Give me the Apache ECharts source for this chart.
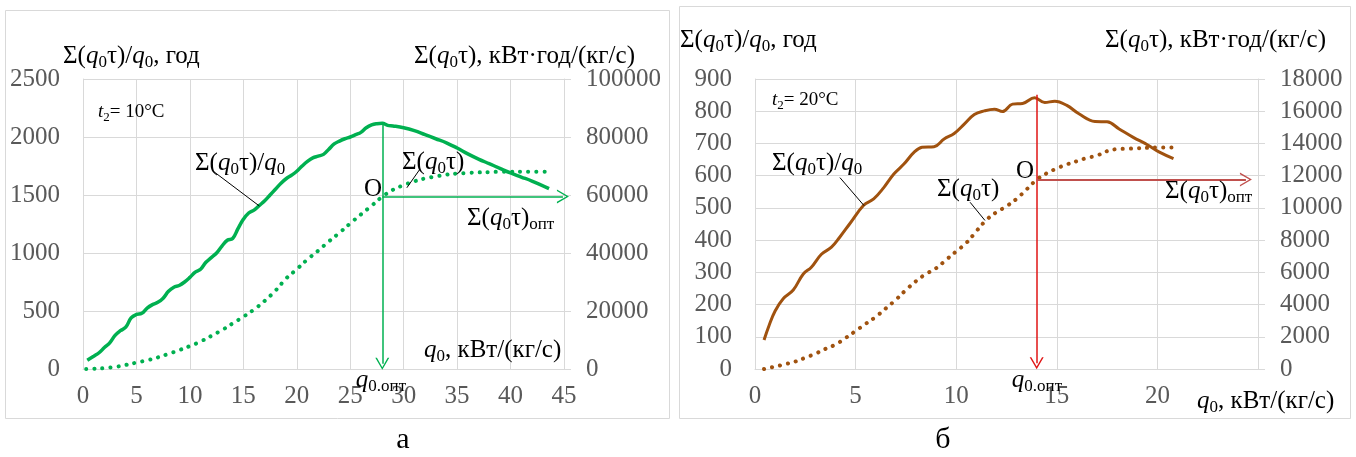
<!DOCTYPE html>
<html><head><meta charset="utf-8">
<script src="https://cdn.jsdelivr.net/npm/echarts@6/dist/echarts.min.js"></script>
<style>html,body{margin:0;padding:0;background:#fff}#c{width:1356px;height:457px}</style>
</head><body><div id="c"></div>
<script>
// ---------- DATA ----------
// Panel а (t2 = 10°C)
const qA_ratio = [0.4,1.0,1.5,2.0,2.5,3.0,3.5,4.0,4.5,5.0,5.5,6.0,6.5,7.0,7.5,8.0,8.5,9.0,9.5,10.0,10.5,11.0,11.5,12.0,12.5,13.0,13.5,14.0,14.5,15.0,15.5,16.0,16.5,17.0,17.5,18.0,18.5,19.0,19.5,20.0,20.5,21.0,21.5,22.0,22.5,23.0,23.5,24.0,24.5,25.0,25.5,26.0,26.5,27.0,27.5,28.0,28.5,29.0,30.0,31.0,32.0,33.0,34.0,35.0,36.0,37.0,38.0,39.0,40.0,41.0,42.0,43.6];
const ratioA = [75,110,140,185,225,290,330,360,440,470,480,525,555,575,610,670,705,720,750,790,835,860,920,960,1000,1060,1110,1125,1210,1290,1345,1370,1410,1450,1500,1550,1600,1640,1670,1705,1750,1790,1820,1835,1850,1895,1940,1965,1985,2000,2020,2040,2080,2105,2115,2118,2100,2095,2080,2055,2020,1985,1950,1905,1855,1810,1770,1730,1690,1655,1620,1555];
const qA_sum = [0.3,1,2,3,4,5,6,7,8,9,10,11,12,13,14,15,16,17,18,19,20,21,22,23,24,25,26,27,28,29,30,31,32,33,34,35,36,37,38,39,40,41,42,43.5];
const sumA = [0,100,300,700,1400,2200,3000,4000,5200,6500,7900,9500,11400,13400,15700,18000,20500,23500,27000,31200,34400,37800,40800,44000,47000,50200,53300,56300,59400,61800,63400,64700,65700,66400,67000,67400,67600,67800,67900,68000,68000,68000,68000,68000];
// Panel б (t2 = 20°C)
const qB_ratio = [0.45,0.7,1.0,1.4,1.9,2.4,2.8,3.3,3.8,4.2,4.7,5.4,5.9,6.4,6.9,7.4,7.9,8.3,8.9,9.4,9.9,10.4,10.9,11.4,11.9,12.3,12.8,13.3,13.9,14.4,14.9,15.5,16.1,16.9,17.5,18.1,18.8,19.5,20.1,20.8];
const ratioB = [90,135,180,218,245,295,316,356,378,408,450,508,528,563,605,636,672,688,690,714,731,760,790,801,806,799,822,824,842,827,831,818,792,768,767,745,719,696,673,653];
const qB_sum = [0.45,1.0,1.5,2.0,2.5,3.0,3.5,4.0,4.5,5.0,5.5,6.0,6.5,7.0,7.5,8.0,8.5,9.0,9.5,10.0,10.5,11.0,11.5,12.0,12.5,13.0,13.5,14.0,14.5,15.0,15.5,16.0,16.5,17.0,17.5,18.0,18.5,19.0,19.5,20.0,20.8];
const sumB = [0,150,300,460,700,950,1250,1520,1920,2360,2800,3240,3760,4300,4900,5450,5900,6250,6780,7300,7820,8550,9250,9730,10100,10560,11150,11750,12150,12450,12700,12900,13100,13250,13520,13650,13670,13700,13730,13750,13750];
// Optimum points
const optA = {q: 28, ratio: 2118, sum: 59500, arrowEnd: 45.4};
const optB = {q: 14, ratio: 851, sum: 11760, arrowEnd: 24.7};
// Axis ranges
const xRangeA = [0, 45, 5], yLeftA = [0, 2500, 500], yRightA = [0, 100000, 20000];
const xRangeB = [0, 25, 5], yLeftB = [0, 900, 100], yRightB = [0, 18000, 2000];

// ---------- STYLE ----------
const F = 'Liberation Serif';
const GRID = '#d9d9d9', LBL = '#595959';
const GREEN = '#00b050', BROWN = '#a0520f', RED = '#e01414', RED2 = '#c0504d';
const CHEV = 'path://M0,12 L6,0 L12,12 L10.6,12 L6,2.6 L1.4,12 Z';

const zip = (xs, ys) => xs.map((x, i) => [x, ys[i]]);
function rich(fs) {
  return {
    n: {fontFamily: F, fontSize: fs, color: '#000', lineHeight: fs + 5},
    i: {fontFamily: F, fontSize: fs, fontStyle: 'italic', color: '#000', lineHeight: fs + 5},
    s: {fontFamily: F, fontSize: Math.round(fs * 0.68), color: '#000', verticalAlign: 'bottom', lineHeight: Math.round(fs * 0.72)}
  };
}
function txt(x, y, text, fs, align) {
  return {type: 'text', x: x, y: y, silent: true, z: 100,
    style: {text: text, rich: rich(fs || 25), align: align || 'left', textAlign: align || 'left',
      verticalAlign: 'middle', textVerticalAlign: 'middle', fontFamily: F, fontSize: fs || 25}};
}
const T_RATIO_AX = '{n|Σ(}{i|q}{s|0}{n|τ)/}{i|q}{s|0}{n|, год}';
const T_SUM_AX = '{n|Σ(}{i|q}{s|0}{n|τ), кВт·год/(кг/с)}';
const T_RATIO = '{n|Σ(}{i|q}{s|0}{n|τ)/}{i|q}{s|0}';
const T_SUM = '{n|Σ(}{i|q}{s|0}{n|τ)}';
const T_SUMOPT = '{n|Σ(}{i|q}{s|0}{n|τ)}{s|опт}';
const T_QOPT = '{i|q}{s|0.опт}';
const T_QAX = '{i|q}{s|0}{n|, кВт/(кг/с)}';

const plain = v => String(v);
function xAx(grid, r, hideMax) {
  return {type: 'value', gridIndex: grid, min: r[0], max: r[1], interval: r[2],
    axisLine: {show: true, onZero: false, lineStyle: {color: GRID, width: 1}}, axisTick: {show: false},
    axisLabel: {fontFamily: F, fontSize: 25, color: LBL, margin: 15, showMaxLabel: !hideMax, formatter: plain},
    splitLine: {show: true, showMinLine: true, showMaxLine: true, lineStyle: {color: GRID, width: 1}}};
}
function yAx(grid, r, pos) {
  const right = pos === 'right';
  return {type: 'value', gridIndex: grid, position: pos, min: r[0], max: r[1], interval: r[2],
    axisLine: {show: true, onZero: false, lineStyle: {color: GRID, width: 1}},
    axisTick: {show: right, length: 7, lineStyle: {color: GRID}},
    axisLabel: {fontFamily: F, fontSize: 25, color: LBL, margin: right ? 22 : 23, formatter: plain},
    splitLine: {show: !right, showMinLine: true, showMaxLine: true, lineStyle: {color: GRID, width: 1}}};
}
function arrowLine(p1, p2, color, width) {
  return [{coord: p1, symbol: 'none'}, {coord: p2, symbol: CHEV, symbolSize: [14, 12],
    lineStyle: {color: color, width: width, type: 'solid'}}];
}
function leader(p1, p2) {
  return [{coord: p1, symbol: 'none'}, {coord: p2, symbol: 'none',
    lineStyle: {color: '#000', width: 1, type: 'solid'}}];
}
function ml(data, color) {
  return {silent: true, animation: false, label: {show: false}, emphasis: {disabled: true},
    symbol: 'none', lineStyle: {color: color, width: 1.5, type: 'solid'},
    itemStyle: {color: color}, data: data};
}
const dotted = {type: [0.1, 8], cap: 'round', width: 4};

const option = {
  animation: false,
  backgroundColor: '#fff',
  textStyle: {fontFamily: F},
  grid: [
    {left: 83, right: 1356 - 564, top: 79, bottom: 88},
    {left: 755, right: 1356 - 1258, top: 79, bottom: 88}
  ],
  xAxis: [xAx(0, xRangeA, false), xAx(1, xRangeB, true)],
  yAxis: [yAx(0, yLeftA, 'left'), yAx(0, yRightA, 'right'), yAx(1, yLeftB, 'left'), yAx(1, yRightB, 'right')],
  series: [
    {type: 'line', xAxisIndex: 0, yAxisIndex: 0, data: zip(qA_ratio, ratioA), smooth: 0.4, showSymbol: false,
     lineStyle: {color: GREEN, width: 3.5}, itemStyle: {color: GREEN}, z: 3,
     markLine: ml([
       arrowLine([optA.q, optA.ratio], [optA.q, 45], GREEN, 1.5),
       leader([12.2, 1704], [16.5, 1405])
     ], GREEN)},
    {type: 'line', xAxisIndex: 0, yAxisIndex: 1, data: zip(qA_sum, sumA), smooth: 0.4, showSymbol: false,
     lineStyle: Object.assign({color: GREEN}, dotted), itemStyle: {color: GREEN}, z: 2,
     markLine: ml([
       arrowLine([optA.q, optA.sum], [optA.arrowEnd - 0.5, optA.sum], GREEN, 1.5),
       leader([31.5, 68800], [30.3, 62500])
     ], GREEN)},
    {type: 'line', xAxisIndex: 1, yAxisIndex: 2, data: zip(qB_ratio, ratioB), smooth: 0.4, showSymbol: false,
     lineStyle: {color: BROWN, width: 3}, itemStyle: {color: BROWN}, z: 3,
     markLine: ml([
       arrowLine([optB.q, optB.ratio], [optB.q, 18], RED, 1.5),
       leader([4.22, 594], [5.42, 507])
     ], RED)},
    {type: 'line', xAxisIndex: 1, yAxisIndex: 3, data: zip(qB_sum, sumB), smooth: 0.4, showSymbol: false,
     lineStyle: Object.assign({color: BROWN}, dotted), itemStyle: {color: BROWN}, z: 2,
     markLine: ml([
       arrowLine([optB.q, optB.sum], [optB.arrowEnd - 0.3, optB.sum], RED2, 2),
       leader([10.69, 10350], [11.43, 9220])
     ], RED2)}
  ],
  graphic: [
    {type: 'rect', silent: true, z: -10, shape: {x: 5.5, y: 10.5, width: 664, height: 408}, style: {fill: 'none', stroke: GRID, lineWidth: 1}},
    {type: 'rect', silent: true, z: -10, shape: {x: 679.5, y: 6.5, width: 671, height: 412}, style: {fill: 'none', stroke: GRID, lineWidth: 1}},
    // panel а
    txt(63, 56, T_RATIO_AX),
    txt(414, 56, T_SUM_AX),
    txt(98, 112, '{i|t}{s|2}{n|= 10°C}', 19),
    txt(195, 163, T_RATIO),
    txt(402, 162, T_SUM),
    txt(364, 189, '{n|O}'),
    txt(467, 218, T_SUMOPT),
    txt(381, 380, T_QOPT, 25, 'center'),
    txt(424, 350, T_QAX),
    // panel б
    txt(680, 40, T_RATIO_AX),
    txt(1105, 40, T_SUM_AX),
    txt(772, 100, '{i|t}{s|2}{n|= 20°C}', 19),
    txt(772, 163, T_RATIO),
    txt(937, 189, T_SUM),
    txt(1016, 171, '{n|O}'),
    txt(1165, 191, T_SUMOPT),
    txt(1037, 380, T_QOPT, 25, 'center'),
    txt(1197, 401, T_QAX),
    // captions
    txt(403, 440, '{n|а}', 30, 'center'),
    txt(943, 440, '{n|б}', 30, 'center')
  ]
};
const chart = echarts.init(document.getElementById('c'), null, {renderer: 'canvas'});
chart.setOption(option);
</script>
</body></html>
